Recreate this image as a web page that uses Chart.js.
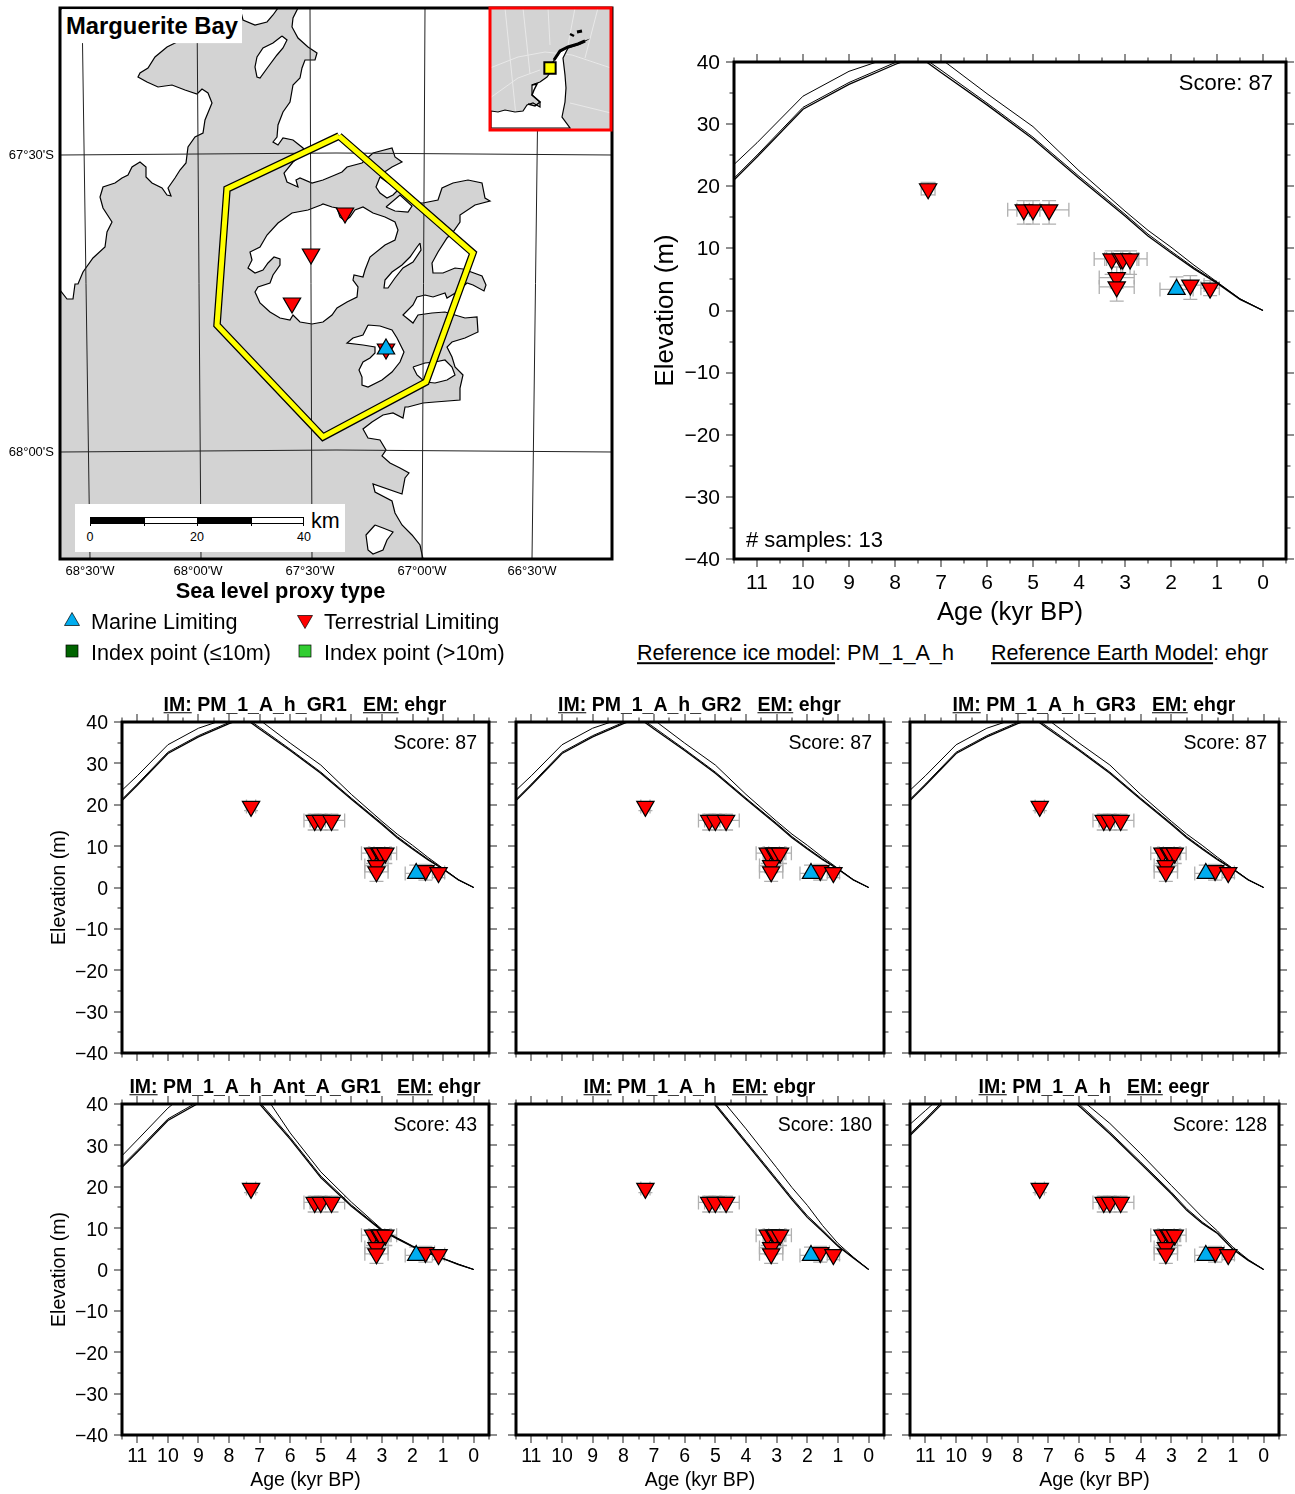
<!DOCTYPE html>
<html>
<head>
<meta charset="utf-8">
<script src="https://cdn.jsdelivr.net/npm/chart.js@4/dist/chart.umd.js"></script>
<style>
  html, body { margin: 0; padding: 0; background: #fff; }
  #page { position: relative; width: 1295px; height: 1494px; overflow: hidden; font-family: "Liberation Sans", Arial, sans-serif; color: #000; }
  canvas { position: absolute; display: block; }
  .txt { position: absolute; white-space: nowrap; line-height: 1; z-index: 5; }
  .box { position: absolute; z-index: 4; }
</style>
</head>
<body>
<div id="page"></div>
<script>
// sea level panels
const ageTicks = [0, 1, 2, 3, 4, 5, 6, 7, 8, 9, 10, 11];
const ageMinorTicks = [-0.5, 0.5, 1.5, 2.5, 3.5, 4.5, 5.5, 6.5, 7.5, 8.5, 9.5, 10.5, 11.5];
const elevTicks = [-40, -30, -20, -10, 0, 10, 20, 30, 40];
const elevMinorTicks = [-35, -25, -15, -5, 5, 15, 25, 35];

const terrAges = [7.28, 5.2, 5.0, 4.65, 3.29, 3.09, 3.05, 2.89, 3.18, 3.18, 1.58, 1.15];
const terrElev = [19.6, 16.2, 16.2, 16.2, 8.3, 8.3, 8.3, 8.3, 5.3, 3.8, 4.1, 3.6];
const terrAgeErr = [0.15, 0.35, 0.35, 0.43, 0.38, 0.35, 0.35, 0.37, 0.38, 0.38, 0.3, 0.2];
const terrElevUp = [1, 1.5, 1.5, 1.5, 1.3, 1.3, 1.3, 1.3, 1.7, 1.7, 1.5, 1.2];
const terrElevDown = [1, 2.3, 2.3, 2.3, 2.5, 2.5, 2.5, 2.5, 1.7, 2.3, 2.3, 1.2];
const marineAges = [1.88];
const marineElev = [3.4];
const marineAgeErr = [0.36];
const marineElevUp = [2];
const marineElevDown = [0];

const modelAges = [0, 0.5, 1, 1.5, 2, 2.5, 3, 4, 5, 6, 7, 7.5, 8, 9, 10, 11, 11.5];
const gr_low = [0, 1.8, 4.4, 6.7, 9.3, 12, 15.2, 21.3, 27.6, 33.1, 38.3, 41, 39.6, 36.4, 32.4, 24.7, 21];
const gr_mid = [0, 1.85, 4.5, 6.9, 9.55, 12.3, 15.5, 21.6, 27.9, 33.4, 38.7, 41.3, 39.9, 36.7, 32.7, 25, 21.3];
const gr_high = [0, 1.9, 4.6, 7.3, 10.2, 12.9, 16, 22.5, 29.6, 34.9, 40.5, 42, 41, 38.5, 34.5, 27, 23.5];
const ant_low = [0, 1.2, 2.6, 4, 5.5, 7.4, 9.4, 15.3, 22.2, 31.5, 40, 42, 44, 40.2, 36, 28.4, 24.7];
const ant_mid = [0, 1.25, 2.65, 4.05, 5.6, 7.5, 9.55, 15.6, 22.6, 31.9, 40.5, 42.5, 44.4, 40.6, 36.4, 28.8, 25.1];
const ant_high = [0, 1.3, 2.7, 4.1, 5.7, 7.65, 9.7, 16.3, 23.6, 33, 44, 46, 47, 45, 39, 31.3, 27.5];
const ebgr_low = [0, 2.8, 5.6, 9.2, 12.6, 16.9, 21.5, 30.6, 39.7, 48, 55, 58, 60, 60, 60, 60, 60];
const ebgr_mid = [0, 2.85, 5.8, 9.5, 13, 17.3, 21.9, 31, 40.1, 48.4, 55, 58, 60, 60, 60, 60, 60];
const ebgr_high = [0, 3, 6.3, 10.6, 15.5, 19.8, 24.6, 34, 43, 50, 57, 60, 62, 62, 62, 62, 62];
const eegr_low = [0, 2.2, 4.9, 8.7, 11.2, 14.3, 18.3, 25.6, 32.8, 39.5, 46, 49, 50, 48, 43.5, 36, 32.4];
const eegr_mid = [0, 2.25, 5, 8.85, 11.5, 14.7, 18.7, 26, 33.2, 40, 46.4, 49.4, 50.4, 48.4, 44, 36.4, 32.8];
const eegr_high = [0, 2.4, 5.4, 9.3, 12.7, 16.5, 20.3, 28, 35.3, 41.5, 48, 51, 52, 50, 45, 38.4, 35.1];

const mapXTicks = [30, 138, 250, 362, 472];
const mapXLabels = ["68°30'W", "68°00'W", "67°30'W", "67°00'W", "66°30'W"];
const mapYTicks = [147, 444];
const mapYLabels = ["67°30'S", "68°00'S"];
const gratLon = [
  [[22, 0], [30, 551]], [[137, 0], [141, 551]], [[250, 0], [252, 551]],
  [[365, 0], [362, 551]], [[479, 0], [472, 551]]
];
const gratLat = [
  [[0, 147], [276, 145], [552, 147]], [[0, 444], [276, 442], [552, 444]]
];
const coastWest = [[0, 282], [7, 291], [13, 291], [15, 276], [18, 276], [23, 264], [33, 250], [45, 239], [47, 224], [52, 214], [43, 200], [40, 189], [43, 179], [55, 175], [62, 170], [68, 167], [72, 159], [80, 154], [86, 159], [86, 169], [92, 175], [102, 180], [107, 187], [111, 188], [108, 180], [115, 170], [120, 162], [126, 155], [128, 139], [135, 129], [143, 125], [145, 112], [152, 95], [148, 85], [142, 81], [137, 86], [125, 82], [112, 77], [98, 79], [87, 74], [78, 69], [80, 65], [88, 60], [95, 49], [107, 39], [117, 34], [125, 25], [133, 10], [138, 2], [139, 0], [0, 0], [0, 282]];
const coastEast = [[238, 0], [233, 10], [232, 19], [238, 30], [248, 39], [257, 45], [255, 52], [245, 52], [242, 60], [240, 70], [233, 77], [230, 94], [223, 104], [218, 117], [217, 129], [213, 134], [218, 137], [223, 130], [233, 132], [243, 140], [245, 144], [233, 154], [224, 165], [227, 174], [238, 179], [236, 172], [240, 170], [252, 175], [263, 172], [275, 167], [282, 164], [287, 159], [302, 155], [313, 145], [332, 140], [335, 149], [342, 154], [332, 159], [320, 167], [337, 182], [353, 195], [363, 195], [378, 192], [382, 180], [393, 175], [408, 172], [422, 175], [425, 190], [430, 193], [415, 197], [400, 207], [400, 214], [393, 224], [387, 230], [378, 244], [372, 255], [373, 265], [383, 265], [395, 260], [403, 261], [422, 268], [426, 277], [424, 283], [413, 277], [407, 275], [397, 284], [387, 290], [385, 285], [373, 289], [365, 287], [357, 289], [353, 297], [343, 307], [353, 315], [358, 307], [372, 305], [385, 304], [395, 307], [405, 310], [417, 309], [418, 324], [405, 330], [392, 334], [387, 339], [392, 349], [395, 359], [403, 367], [400, 380], [400, 392], [375, 394], [363, 395], [348, 399], [345, 399], [343, 410], [333, 405], [323, 407], [312, 414], [303, 421], [308, 430], [320, 432], [326, 442], [322, 448], [330, 455], [340, 460], [349, 465], [345, 470], [342, 486], [313, 476], [315, 484], [332, 493], [335, 505], [342, 517], [352, 527], [360, 537], [363, 551], [552, 551], [552, 0], [238, 0]];
const islandTop = [[180, 0], [183, 12], [195, 17], [207, 14], [213, 7], [218, 0], [180, 0]];
const islandNorth = [[222, 28], [227, 32], [223, 40], [217, 47], [208, 59], [200, 70], [197, 69], [195, 59], [197, 49], [203, 40], [213, 35], [222, 28]];
const islandBig = [[261, 197], [263, 196], [272, 199], [277, 200], [280, 209], [285, 213], [290, 209], [295, 202], [303, 199], [313, 205], [325, 209], [335, 214], [338, 222], [335, 232], [325, 237], [310, 249], [305, 262], [303, 269], [294, 267], [293, 272], [298, 279], [297, 289], [287, 294], [277, 300], [272, 307], [263, 314], [252, 316], [240, 314], [233, 307], [230, 312], [220, 310], [210, 304], [200, 295], [195, 284], [198, 279], [210, 275], [213, 267], [220, 257], [220, 251], [214, 249], [208, 255], [203, 262], [195, 265], [188, 260], [192, 252], [190, 244], [200, 239], [207, 227], [218, 215], [232, 205], [248, 202], [261, 197]];
const islandThin = [[360, 235], [361, 242], [353, 254], [343, 260], [335, 270], [328, 280], [324, 280], [325, 272], [332, 264], [342, 257], [350, 249], [357, 239], [360, 235]];
const islandBlue = [[308, 317], [320, 318], [332, 322], [337, 330], [344, 344], [340, 354], [332, 364], [322, 372], [308, 379], [302, 377], [302, 369], [299, 362], [303, 354], [310, 350], [315, 345], [315, 339], [303, 337], [287, 335], [293, 330], [303, 327], [308, 317]];
const islandEastA = [[353, 359], [365, 355], [375, 354], [385, 352], [392, 359], [395, 367], [387, 372], [375, 375], [365, 374], [357, 367], [353, 359]];
const islandSouth = [[315, 517], [323, 520], [333, 524], [327, 532], [323, 542], [313, 546], [308, 542], [306, 527], [315, 517]];
const islandD = [[320, 169], [316, 179], [320, 185], [327, 190], [333, 187], [338, 182], [320, 169]];
const islandE = [[326, 199], [340, 187], [352, 198], [348, 204], [335, 203], [326, 199]];
const regionOutline = [[279, 128], [413, 245], [366, 374], [263, 429], [157, 317], [167, 181], [279, 128]];
const mapTerrSites = [[285, 205], [251, 246], [232, 295], [326, 341]];
const mapMarineSites = [[326, 341]];

// inset
const insetLand = [[1, 103], [8, 104], [15, 102], [25, 104], [33, 103], [37, 97], [43, 95], [50, 99], [50, 94], [42, 87], [42, 77], [50, 74], [57, 69], [62, 62], [63, 54], [70, 44], [78, 39], [95, 33], [90, 36], [78, 40], [73, 50], [75, 67], [76, 80], [75, 94], [72, 109], [80, 120], [1, 120], [1, 103]];
const insetTip = [[64, 52], [70, 43], [78, 39], [88, 36], [95, 33]];
const insetIslesA = [[80, 26], [84, 28]];
const insetIslesB = [[87, 24], [92, 23]];
const insetCurl = [[42, 77], [47, 76], [44, 82], [42, 87], [50, 94], [45, 98], [38, 96]];
const insetGrat = [
  [[15, 0], [27, 118]], [[33, 0], [40, 66]], [[58, 0], [60, 37]], [[85, 0], [78, 37]], [[108, 0], [95, 50]],
  [[0, 60], [28, 49], [55, 44], [82, 47], [121, 60]], [[0, 90], [28, 70], [50, 62]], [[80, 95], [121, 105]]
];
const insetSite = [[60, 60]];

const RED = '#ff0000', BLUE = '#00adef', ERR = '#b0b0b0';
const page = document.getElementById('page');
Chart.defaults.font.family = '"Liberation Sans", Arial, sans-serif';
Chart.defaults.color = '#000';
Chart.defaults.animation = false;

const toPts = (pairs) => pairs.map(p => ({ x: p[0], y: p[1] }));
const zipPts = (xs, ys) => xs.map((x, i) => ({ x: x, y: ys[i] }));
const noGrid = { display: false, drawTicks: false };

function addText(html, x, y, size, opts) {
  opts = opts || {};
  const d = document.createElement('div');
  d.className = 'txt';
  d.innerHTML = html;
  d.style.fontSize = size + 'px';
  d.style.left = x + 'px';
  d.style.top = y + 'px';
  if (opts.bold) d.style.fontWeight = 'bold';
  const tx = opts.align === 'center' ? '-50%' : opts.align === 'right' ? '-100%' : '0';
  d.style.transform = 'translate(' + tx + ',-50%)';
  page.appendChild(d);
  return d;
}

function addBox(x, y, w, h, css) {
  const d = document.createElement('div');
  d.className = 'box';
  d.style.cssText = 'left:' + x + 'px;top:' + y + 'px;width:' + w + 'px;height:' + h + 'px;' + css;
  page.appendChild(d);
}

// scale boxes keep a fixed size, so the chart area lands exactly on the frame
function fixX(h) {
  return s => { s.height = h; s.paddingLeft = 0; s.paddingRight = 0; };
}
function fixY(w) {
  return s => { s.width = w; s.paddingTop = 0; s.paddingBottom = 0; };
}

function makeChart(frame, m, config) {
  const c = document.createElement('canvas');
  c.width = frame.r - frame.l + m.l + m.r;
  c.height = frame.b - frame.t + m.t + m.b;
  c.style.left = (frame.l - m.l) + 'px';
  c.style.top = (frame.t - m.t) + 'px';
  if (config.zIndex) c.style.zIndex = config.zIndex;
  page.appendChild(c);
  config.options.responsive = false;
  config.options.layout = { autoPadding: false, padding: { top: m.t, right: m.r, left: 0, bottom: 0 } };
  config.options.plugins = Object.assign({ legend: { display: false }, tooltip: { enabled: false } }, config.options.plugins);
  return new Chart(c, config);
}

const frameTicks = {
  id: 'frameTicks',
  afterDatasetsDraw(chart) {
    const { ctx, chartArea: a, scales: { x, y } } = chart;
    const tick = (px, py, dx, dy) => {
      ctx.beginPath();
      ctx.moveTo(px, py);
      ctx.lineTo(px + dx, py + dy);
      ctx.stroke();
    };
    ctx.save();
    ctx.strokeStyle = '#333';
    ctx.lineWidth = 1.1;
    [[ageTicks, 8], [ageMinorTicks, 4.5]].forEach(([vals, len]) => vals.forEach(v => {
      const px = Math.round(x.getPixelForValue(v));
      tick(px, a.top, 0, -len);
      tick(px, a.bottom, 0, len);
    }));
    [[elevTicks, 8], [elevMinorTicks, 4.5]].forEach(([vals, len]) => vals.forEach(v => {
      const py = Math.round(y.getPixelForValue(v));
      tick(a.left, py, -len, 0);
      tick(a.right, py, len, 0);
    }));
    ctx.restore();
  }
};

const frameBorder = {
  id: 'frameBorder',
  afterDraw(chart, args, opts) {
    const { ctx, chartArea: a } = chart;
    ctx.save();
    ctx.strokeStyle = opts.color || '#000';
    ctx.lineWidth = opts.width || 3;
    ctx.strokeRect(a.left, a.top, a.right - a.left, a.bottom - a.top);
    ctx.restore();
  }
};

const errorBars = {
  id: 'errorBars',
  beforeDatasetsDraw(chart) {
    const { ctx, scales: { x, y } } = chart;
    const cap = 7;
    const one = (age, el, ae, up, down) => {
      const px = x.getPixelForValue(age), py = y.getPixelForValue(el);
      const x0 = x.getPixelForValue(age + ae), x1 = x.getPixelForValue(age - ae);
      const y0 = y.getPixelForValue(el + up), y1 = y.getPixelForValue(el - down);
      ctx.beginPath();
      ctx.moveTo(x0, py); ctx.lineTo(x1, py);
      ctx.moveTo(x0, py - cap); ctx.lineTo(x0, py + cap);
      ctx.moveTo(x1, py - cap); ctx.lineTo(x1, py + cap);
      ctx.moveTo(px, y0); ctx.lineTo(px, y1);
      if (up > 0) { ctx.moveTo(px - cap, y0); ctx.lineTo(px + cap, y0); }
      if (down > 0) { ctx.moveTo(px - cap, y1); ctx.lineTo(px + cap, y1); }
      ctx.stroke();
    };
    ctx.save();
    ctx.strokeStyle = ERR;
    ctx.lineWidth = 1.3;
    terrAges.forEach((a, i) => one(a, terrElev[i], terrAgeErr[i], terrElevUp[i], terrElevDown[i]));
    marineAges.forEach((a, i) => one(a, marineElev[i], marineAgeErr[i], marineElevUp[i], marineElevDown[i]));
    ctx.restore();
  }
};

const landFill = {
  id: 'landFill',
  beforeDatasetsDraw(chart) {
    const { ctx, chartArea: a } = chart;
    ctx.save();
    ctx.fillStyle = '#d3d3d3';
    ctx.fillRect(a.left, a.top, a.right - a.left, a.bottom - a.top);
    ctx.restore();
  }
};

function modelLine(vals, width) {
  return { type: 'scatter', showLine: true, data: zipPts(modelAges, vals), borderColor: '#000', borderWidth: width, pointRadius: 0, order: 3 };
}

function seaLevelChart(frame, m, p) {
  const xTitle = p.xTitle ? { display: true, text: 'Age (kyr BP)', font: { size: p.titleSize }, padding: 0 } : { display: false };
  const yTitle = p.yTitle ? { display: true, text: 'Elevation (m)', font: { size: p.titleSize }, padding: 0 } : { display: false };
  return makeChart(frame, m, {
    type: 'scatter',
    data: {
      datasets: [
        { data: zipPts(marineAges, marineElev), pointStyle: 'triangle', pointRadius: 10, backgroundColor: BLUE, borderColor: '#000', borderWidth: 1.2, order: 0 },
        { data: zipPts(terrAges, terrElev), pointStyle: 'triangle', rotation: 180, pointRadius: 10, backgroundColor: RED, borderColor: '#000', borderWidth: 1.2, order: 1 },
        modelLine(p.curves[2], 1),
        modelLine(p.curves[1], 1),
        modelLine(p.curves[0], 1.3)
      ]
    },
    options: {
      scales: {
        x: {
          type: 'linear', reverse: true, min: -0.5, max: 11.5,
          grid: noGrid, border: { display: false },
          ticks: { display: p.xLabels, font: { size: p.tickSize }, padding: p.xPad, maxRotation: 0, autoSkip: false },
          title: xTitle,
          afterBuildTicks: s => { s.ticks = ageTicks.map(v => ({ value: v })); },
          afterFit: fixX(m.b)
        },
        y: {
          type: 'linear', min: -40, max: 40,
          grid: noGrid, border: { display: false },
          ticks: { display: p.yLabels, font: { size: p.tickSize }, padding: p.yPad, labelOffset: p.yShift, autoSkip: false, callback: v => (v < 0 ? '\u2212' + Math.abs(v) : '' + v) },
          title: yTitle,
          afterBuildTicks: s => { s.ticks = elevTicks.map(v => ({ value: v })); },
          afterFit: fixY(m.l)
        }
      }
    },
    plugins: [errorBars, frameTicks, frameBorder]
  });
}

// main panel
seaLevelChart({ l: 734, t: 62, r: 1286, b: 559 }, { l: 84, t: 12, r: 9, b: 69 }, {
  curves: [gr_low, gr_mid, gr_high], xTitle: true, yTitle: true, xLabels: true, yLabels: true,
  tickSize: 21, titleSize: 25.8, xPad: 12, yPad: 14, yShift: 1
});
addText('Score: 87', 1273, 83, 22, { align: 'right' });
addText('# samples: 13', 746, 540, 22);

// small panels
const smallMargin = { l: 74, t: 10, r: 10, b: 57 };
const colFrames = [[122, 489], [516, 884], [910, 1279]];
const rowFrames = [[722, 1053], [1104, 1435]];
const panelIce = ['PM_1_A_h_GR1', 'PM_1_A_h_GR2', 'PM_1_A_h_GR3', 'PM_1_A_h_Ant_A_GR1', 'PM_1_A_h', 'PM_1_A_h'];
const panelEarth = ['ehgr', 'ehgr', 'ehgr', 'ehgr', 'ebgr', 'eegr'];
const panelScores = [87, 87, 87, 43, 180, 128];
const panelCurves = [
  [gr_low, gr_mid, gr_high], [gr_low, gr_mid, gr_high], [gr_low, gr_mid, gr_high],
  [ant_low, ant_mid, ant_high], [ebgr_low, ebgr_mid, ebgr_high], [eegr_low, eegr_mid, eegr_high]
];
panelScores.forEach((score, i) => {
  const col = i % 3, row = Math.floor(i / 3);
  const frame = { l: colFrames[col][0], r: colFrames[col][1], t: rowFrames[row][0], b: rowFrames[row][1] };
  seaLevelChart(frame, smallMargin, {
    curves: panelCurves[i], xTitle: row === 1, yTitle: col === 0, xLabels: row === 1, yLabels: col === 0,
    tickSize: 19.5, titleSize: 19.5, xPad: 10, yPad: 14, yShift: 2
  });
  const title = '<u>IM:</u> ' + panelIce[i] + '&nbsp;&nbsp;&nbsp;<u>EM:</u> ' + panelEarth[i];
  addText(title, (frame.l + frame.r) / 2 - 0.5, frame.t - 17.5, 19.5, { bold: true, align: 'center' });
  addText('Score: ' + score, frame.r - 12, frame.t + 21, 19.5, { align: 'right' });
});

// map
const lightLine = (pairs, color, width) => ({ data: toPts(pairs), showLine: true, pointRadius: 0, borderColor: color, borderWidth: width });
const landShape = pairs => ({ data: toPts(pairs), showLine: true, pointRadius: 0, borderColor: '#000', borderWidth: 1.2, backgroundColor: '#fff', fill: 'shape' });
const mapLayers = [].concat(
  [coastWest, coastEast, islandTop, islandNorth, islandBig, islandThin, islandBlue, islandEastA, islandSouth, islandD, islandE].map(landShape),
  gratLon.concat(gratLat).map(g => lightLine(g, '#222', 1)),
  [lightLine(regionOutline, '#000', 7.5), lightLine(regionOutline, '#ffff00', 5)],
  [{ data: toPts(mapTerrSites), pointStyle: 'triangle', rotation: 180, pointRadius: 10, backgroundColor: RED, borderColor: '#000', borderWidth: 1.2 },
   { data: toPts(mapMarineSites), pointStyle: 'triangle', pointRadius: 10, backgroundColor: BLUE, borderColor: '#000', borderWidth: 1.2 }]
);
// first listed is painted first
mapLayers.forEach((d, i) => { d.order = mapLayers.length - i; });

makeChart({ l: 60, t: 8, r: 612, b: 559 }, { l: 60, t: 8, r: 10, b: 24 }, {
  type: 'scatter',
  data: { datasets: mapLayers },
  options: {
    scales: {
      x: {
        type: 'linear', min: 0, max: 552,
        grid: noGrid, border: { display: false },
        ticks: { font: { size: 13 }, padding: 5, maxRotation: 0, autoSkip: false, callback: v => mapXLabels[mapXTicks.indexOf(v)] },
        afterBuildTicks: s => { s.ticks = mapXTicks.map(v => ({ value: v })); },
        afterFit: fixX(24)
      },
      y: {
        type: 'linear', reverse: true, min: 0, max: 551,
        grid: noGrid, border: { display: false },
        ticks: { font: { size: 13 }, padding: 6, autoSkip: false, callback: v => mapYLabels[mapYTicks.indexOf(v)] },
        afterBuildTicks: s => { s.ticks = mapYTicks.map(v => ({ value: v })); },
        afterFit: fixY(60)
      }
    }
  },
  plugins: [landFill, frameBorder]
});

// inset
const insetLayers = [].concat(
  insetGrat.map(g => lightLine(g, '#e8e8e8', 1)),
  [landShape(insetLand)],
  [lightLine(insetTip, '#000', 3), lightLine(insetIslesA, '#000', 2.5), lightLine(insetIslesB, '#000', 3), lightLine(insetCurl, '#000', 1.5)],
  [{ data: toPts(insetSite), pointStyle: 'rect', pointRadius: 8, backgroundColor: '#ffff00', borderColor: '#000', borderWidth: 2 }]
);
insetLayers.forEach((d, i) => { d.order = insetLayers.length - i; });

makeChart({ l: 490, t: 8, r: 611, b: 130 }, { l: 3, t: 3, r: 3, b: 3 }, {
  zIndex: 3,
  type: 'scatter',
  data: { datasets: insetLayers },
  options: {
    plugins: { frameBorder: { color: '#ff0000' } },
    scales: {
      x: { type: 'linear', min: 0, max: 121, grid: noGrid, border: { display: false }, ticks: { display: false }, afterFit: fixX(3) },
      y: { type: 'linear', reverse: true, min: 0, max: 122, grid: noGrid, border: { display: false }, ticks: { display: false }, afterFit: fixY(3) }
    }
  },
  plugins: [landFill, frameBorder]
});

// map furniture
const label = addText('Marguerite Bay', 62, 26, 23.8, { bold: true });
label.style.background = '#fff';
label.style.padding = '5px 4px 5px 4px';

addBox(75, 504, 270, 48, 'background:#fff;');
addBox(90, 517, 214, 7, 'border:1px solid #000;box-sizing:border-box;background:#fff;z-index:5;');
addBox(90, 517, 54, 7, 'background:#000;z-index:5;');
addBox(197, 517, 54, 7, 'background:#000;z-index:5;');
[90, 144, 197, 251, 303].forEach(x => addBox(x, 517, 1, 9, 'background:#000;z-index:5;'));
addText('0', 90, 537, 12.5, { align: 'center' });
addText('20', 197, 537, 12.5, { align: 'center' });
addText('40', 304, 537, 12.5, { align: 'center' });
addText('km', 311, 522, 21.5);

// legend
const svgMark = (x, y, shape, fill) => {
  const d = document.createElement('div');
  d.className = 'box';
  d.style.cssText = 'left:' + (x - 9) + 'px;top:' + (y - 9) + 'px;width:18px;height:18px;';
  d.innerHTML = '<svg width="18" height="18"><' + shape + ' fill="' + fill + '" stroke="#000" stroke-width="0.7"/></svg>';
  page.appendChild(d);
};
addText('Sea level proxy type', 280.5, 591, 21.8, { bold: true, align: 'center' });
svgMark(72, 619, 'polygon points="1.5,15.5 16.5,15.5 9,2.5"', BLUE);
svgMark(305, 622, 'polygon points="1.5,2.5 16.5,2.5 9,15.5"', RED);
svgMark(72, 651, 'rect x="3" y="3" width="12" height="12"', '#006400');
svgMark(305, 651, 'rect x="3" y="3" width="12" height="12"', '#32cd32');
addText('Marine Limiting', 91, 621.5, 21.6);
addText('Terrestrial Limiting', 324, 621.5, 21.6);
addText('Index point (≤10m)', 91, 652.5, 21.6);
addText('Index point (&gt;10m)', 324, 652.5, 21.6);
addText('<u>Reference ice model</u>: PM_1_A_h', 637, 652.5, 21.6);
addText('<u>Reference Earth Model</u>: ehgr', 991, 652.5, 21.6);
</script>
</body>
</html>
